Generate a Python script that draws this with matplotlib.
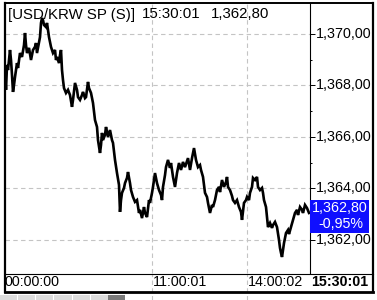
import matplotlib
matplotlib.use("Agg")
import matplotlib.pyplot as plt
from matplotlib.patches import Rectangle
from matplotlib.lines import Line2D
from matplotlib.transforms import blended_transform_factory

plt.rcParams["font.family"] = ["Liberation Sans", "DejaVu Sans"]

# dados (número do tick, preço)
tick_no = [0, 1, 2, 3, 5, 6, 7, 8, 9, 10,
           12, 13, 15, 17, 19, 20, 21, 22, 24, 26,
           28, 30, 31, 32, 33, 35, 36, 37, 38, 39,
           41, 42, 43, 44, 46, 48, 50, 51, 52, 54,
           55, 56, 57, 58, 59, 61, 63, 65, 67, 68,
           70, 72, 73, 75, 77, 78, 80, 81, 83, 84,
           86, 88, 90, 92, 93, 95, 96, 97, 98, 100,
           101, 103, 105, 107, 108, 110, 112, 114, 115, 116,
           117, 119, 120, 122, 123, 125, 126, 128, 130, 132,
           134, 135, 137, 139, 140, 142, 144, 145, 147, 148,
           150, 152, 154, 156, 157, 158, 160, 161, 163, 165,
           166, 168, 170, 172, 174, 176, 178, 180, 183, 185,
           187, 189, 191, 193, 195, 196, 198, 200, 202, 203,
           205, 207, 208, 210, 212, 214, 215, 217, 219, 221,
           222, 223, 225, 227, 228, 230, 232, 234, 236, 237,
           239, 241, 242, 244, 245, 247, 248, 250, 252, 253,
           255, 257, 258, 259, 261, 263, 265, 267, 268, 270,
           272, 274, 275, 276, 277, 279, 281, 283, 284, 286,
           288, 290, 292, 293, 295, 297, 298, 300, 302, 304]
preco = [1368.52, 1367.83, 1368.80, 1368.60, 1369.38, 1368.99, 1368.41, 1367.75, 1368.02, 1368.33,
         1368.87, 1368.68, 1369.26, 1369.11, 1369.57, 1370.04, 1369.57, 1369.26, 1369.46, 1368.99,
         1369.38, 1369.50, 1369.65, 1369.26, 1369.46, 1369.88, 1370.43, 1370.62, 1370.54, 1370.35,
         1370.27, 1370.43, 1370.16, 1369.88, 1369.50, 1369.26, 1369.38, 1368.99, 1369.11, 1368.87,
         1369.18, 1369.38, 1368.60, 1368.21, 1367.90, 1367.71, 1367.83, 1367.63, 1367.17, 1367.44,
         1368.10, 1367.83, 1367.55, 1367.44, 1367.63, 1367.75, 1367.51, 1367.55, 1368.14, 1367.90,
         1367.71, 1367.32, 1366.66, 1366.39, 1365.88, 1365.38, 1365.69, 1366.16, 1365.88, 1366.08,
         1366.39, 1366.00, 1366.27, 1365.88, 1365.77, 1365.11, 1364.60, 1364.14, 1363.09, 1363.55,
         1363.83, 1364.02, 1364.21, 1364.41, 1364.64, 1364.21, 1363.94, 1363.67, 1363.48, 1363.55,
         1363.05, 1363.17, 1362.85, 1363.28, 1363.05, 1362.89, 1363.55, 1363.44, 1363.83, 1364.06,
         1364.60, 1364.21, 1363.94, 1363.75, 1363.55, 1364.06, 1364.52, 1364.83, 1365.11, 1364.80,
         1364.99, 1364.45, 1364.06, 1364.60, 1364.99, 1364.72, 1365.03, 1364.83, 1365.18, 1364.72,
         1365.18, 1365.57, 1365.11, 1364.83, 1364.91, 1364.72, 1364.45, 1363.83, 1363.67, 1363.44,
         1363.05, 1363.36, 1363.28, 1363.55, 1363.94, 1364.06, 1363.86, 1364.33, 1364.06, 1364.25,
         1364.45, 1364.06, 1363.94, 1363.71, 1363.55, 1363.44, 1363.55, 1363.28, 1363.09, 1362.78,
         1363.44, 1363.55, 1363.67, 1363.55, 1363.83, 1364.06, 1364.41, 1364.33, 1364.45, 1364.06,
         1363.94, 1364.02, 1363.83, 1363.55, 1363.28, 1362.50, 1362.66, 1362.47, 1362.58, 1362.70,
         1362.50, 1362.00, 1361.69, 1361.50, 1361.34, 1361.88, 1362.27, 1362.39, 1362.23, 1362.50,
         1362.78, 1363.05, 1363.17, 1362.97, 1363.28, 1363.17, 1363.05, 1363.36, 1363.24, 1363.05]

y_ticks = [1362, 1364, 1366, 1368, 1370]
y_labels = ["1,362,00", "1,364,00", "1,366,00", "1,368,00", "1,370,00"]
y_minor = [1363, 1365, 1367, 1369]
hora_pos = [0, 147, 242]
hora_txt = ["00:00:00", "11:00:01", "14:00:02"]
hora_fim = "15:30:01"
titulo = "[USD/KRW SP (S)]"
ultimo = "1,362,80"
variacao = "-0,95%"

W, H = 377, 300
def fx(px):
    return px / W
def fy(py):
    return 1 - py / H

FS = 10.3
GRID = "#c4c4c4"
fig = plt.figure(figsize=(3.77, 3.0), dpi=100)
fig.patch.set_facecolor("white")

ax = fig.add_axes([fx(5), fy(273), fx(310) - fx(5), fy(3) - fy(273)])
ax.plot(tick_no, preco, color="black", linewidth=1.9, solid_joinstyle="miter")
ax.set_xlim(0, 305)
ax.set_ylim(1360.718, 1371.204)
for v in y_ticks:
    ax.axhline(v, color=GRID, linewidth=0.8, dashes=(4, 3), zorder=0)
for p in hora_pos[1:]:
    ax.axvline(p, color=GRID, linewidth=0.8, dashes=(4, 3), zorder=0)
for s in ["left", "top", "bottom"]:
    ax.spines[s].set_visible(False)
ax.spines["right"].set_linewidth(0.8)
ax.set_xticks([])
ax.set_yticks(y_ticks)
ax.set_yticks(y_minor, minor=True)
ax.tick_params(axis="y", which="both", left=False, right=True, labelleft=False,
               labelright=False, direction="out", width=0.7)
ax.tick_params(axis="y", which="major", length=3.8)
ax.tick_params(axis="y", which="minor", length=1.6)

# coluna dos preços à direita
rax = fig.add_axes([fx(310), fy(273), fx(372) - fx(310), fy(3) - fy(273)])
rax.set_xlim(310, 372)
rax.set_ylim(ax.get_ylim())
rax.axis("off")
for v, t in zip(y_ticks, y_labels):
    rax.text(315.5, v, t, fontsize=FS, va="center", ha="left", clip_on=True)

# título
fig.text(fx(7.5), fy(14.5), titulo, fontsize=10.8, va="center", ha="left")
fig.text(fx(142), fy(14.5), "15:30:01", fontsize=10.8, va="center", ha="left")
fig.text(fx(211), fy(14.5), ultimo, fontsize=10.8, va="center", ha="left")

# linha de horas
bt = blended_transform_factory(ax.transData, fig.transFigure)
for p, t in zip(hora_pos, hora_txt):
    ax.text(p + 1 if p else -0.5, fy(282.5), t, fontsize=FS, va="center", ha="left",
            transform=bt, clip_on=False)
    if p:
        fig.add_artist(Line2D([fx(p + 5)] * 2, [fy(300), fy(273)], color=GRID,
                              linewidth=0.8, dashes=(4, 3), zorder=0))
fig.text(fx(311), fy(282.5), hora_fim, fontsize=FS, fontweight="bold", va="center", ha="left")

# caixa azul do último preço
fig.add_artist(Rectangle((fx(310), fy(233)), fx(369) - fx(310), fy(200) - fy(233),
                         transform=fig.transFigure, facecolor="#0f0fff", edgecolor="none", zorder=5))
fig.text(fx(340), fy(208.5), ultimo, fontsize=FS, color="white", va="center", ha="center", zorder=6)
fig.text(fx(341), fy(224.5), variacao, fontsize=FS, color="white", va="center", ha="center", zorder=6)

# abas cinzas embaixo
fig.add_artist(Rectangle((0, 0), fx(108), fy(294.5), transform=fig.transFigure,
                         facecolor="#dcdcdc", edgecolor="none"))
for sx in [17, 35, 53, 72, 90]:
    fig.add_artist(Line2D([fx(sx)] * 2, [0, fy(294.5)], color="white", linewidth=0.8))
fig.add_artist(Rectangle((fx(108), 0), fx(125) - fx(108), fy(294.5), transform=fig.transFigure,
                         facecolor="#7a7a7a", edgecolor="none"))

# moldura
def linha(x0, y0, x1, y1, lw):
    fig.add_artist(Line2D([fx(x0), fx(x1)], [fy(y0), fy(y1)], color="black",
                          linewidth=lw, solid_capstyle="projecting", zorder=10))

linha(4.5, 2.5, 372.5, 2.5, 1.4)
linha(4.5, 2.5, 4.5, 292, 1.6)
linha(372.5, 2.5, 372.5, 292, 1.6)
linha(4.5, 292, 372.5, 292, 2.0)
linha(4.5, 273.5, 372.5, 273.5, 0.8)

fig.savefig("out.png", dpi=100)
